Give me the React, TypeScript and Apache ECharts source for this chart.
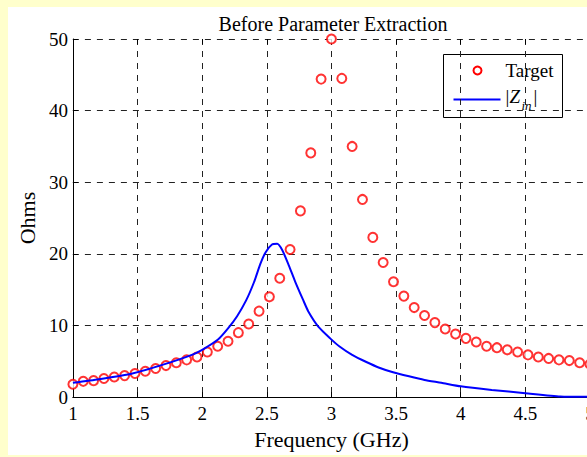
import React, { useEffect, useRef } from "react";
import * as echarts from "echarts";

const targetFreq = [
  1.0, 1.08, 1.16, 1.24, 1.32, 1.4, 1.48, 1.56, 1.64, 1.72, 1.8, 1.88, 1.96,
  2.04, 2.12, 2.2, 2.28, 2.36, 2.44, 2.52, 2.6, 2.68, 2.76, 2.84, 2.92, 3.0,
  3.08, 3.16, 3.24, 3.32, 3.4, 3.48, 3.56, 3.64, 3.72, 3.8, 3.88, 3.96, 4.04,
  4.12, 4.2, 4.28, 4.36, 4.44, 4.52, 4.6, 4.68, 4.76, 4.84, 4.92, 5.0,
];
const targetOhms = [
  1.8, 2.2, 2.3, 2.6, 2.8, 3.0, 3.3, 3.6, 4.0, 4.4, 4.8, 5.2, 5.6, 6.3, 7.1,
  7.8, 9.0, 10.2, 12.0, 14.0, 16.6, 20.6, 26.0, 34.1, 44.4, 50.0, 44.5, 35.0,
  27.6, 22.3, 18.8, 16.1, 14.1, 12.5, 11.4, 10.4, 9.5, 8.8, 8.2, 7.7, 7.1, 6.9,
  6.6, 6.3, 5.9, 5.6, 5.4, 5.2, 5.1, 4.8, 4.6,
];
const zinFreq = [
  1.0, 1.2, 1.46, 1.71, 1.92, 2.0, 2.12, 2.2, 2.27, 2.34, 2.4, 2.45, 2.49,
  2.54, 2.58, 2.62, 2.67, 2.72, 2.78, 2.82, 2.9, 2.99, 3.06, 3.16, 3.27, 3.37,
  3.47, 3.6, 3.72, 3.85, 4.0, 4.24, 4.5, 4.77, 5.0,
];
const zinOhms = [
  2.0, 2.5, 3.3, 4.6, 5.9, 6.6, 8.0, 9.6, 11.3, 13.5, 16.0, 18.6, 20.2, 21.3,
  21.4, 20.5, 18.4, 16.1, 13.6, 12.0, 9.8, 8.2, 7.1, 5.9, 4.9, 4.1, 3.5, 2.9,
  2.4, 2.0, 1.5, 1.0, 0.55, 0.1, 0.05,
];
const xTicks = ["1", "1.5", "2", "2.5", "3", "3.5", "4", "4.5", "5"];
const yTicks = ["0", "10", "20", "30", "40", "50"];

const FONT = "Liberation Serif";

export default function App() {
  const ref = useRef<HTMLDivElement>(null);
  useEffect(() => {
    document.body.style.margin = "0";
    document.body.style.overflow = "hidden";
    document.body.style.background = "#FFFFCC";
    const chart = echarts.init(ref.current!, null, { renderer: "svg" });
    const gridLine = { show: true, lineStyle: { color: "#222", type: [6, 6] as any, width: 1 } };
    chart.setOption({
      animation: false,
      backgroundColor: "#ffffff",
      title: {
        text: "Before Parameter Extraction",
        left: 320,
        top: 2,
        textAlign: "center",
        textStyle: { fontFamily: FONT, fontSize: 20, fontWeight: "normal", color: "#000" },
      },
      grid: { left: 59, top: 32, width: 523, height: 365, containLabel: false },
      xAxis: [
        {
          type: "value",
          min: 1,
          max: 5,
          interval: 0.5,
          name: "Frequency (GHz)",
          nameLocation: "middle",
          nameGap: 27,
          nameTextStyle: { fontFamily: FONT, fontSize: 22, color: "#000" },
          axisLine: { show: true, lineStyle: { color: "#000", width: 1 } },
          axisTick: { show: true, inside: true, length: 5, lineStyle: { color: "#000" } },
          axisLabel: {
            fontFamily: FONT,
            fontSize: 19,
            color: "#000",
            margin: 7,
            formatter: (v: number) => {
              const i = Math.round((v - 1) / 0.5);
              return xTicks[i] ?? "";
            },
          },
          splitLine: gridLine,
        },
        {
          type: "value",
          position: "top",
          min: 1,
          max: 5,
          interval: 0.5,
          axisLine: { show: false },
          axisTick: { show: true, inside: true, length: 5, lineStyle: { color: "#000" } },
          axisLabel: { show: false },
          splitLine: { show: false },
        },
      ],
      yAxis: {
        type: "value",
        min: 0,
        max: 50,
        interval: 10,
        name: "Ohms",
        nameLocation: "middle",
        nameGap: 32,
        nameRotate: 90,
        nameTextStyle: { fontFamily: FONT, fontSize: 22, color: "#000" },
        axisLine: { show: true, lineStyle: { color: "#000", width: 1 } },
        axisTick: { show: true, inside: true, length: 5, lineStyle: { color: "#000" } },
        axisLabel: {
          fontFamily: FONT,
          fontSize: 19,
          color: "#000",
          margin: 5,
          formatter: (v: number) => yTicks[Math.round(v / 10)] ?? "",
        },
        splitLine: gridLine,
      },
      series: [
        {
          name: "Target",
          type: "scatter",
          data: targetFreq.map((f, i) => [f, targetOhms[i]]),
          symbol: "circle",
          symbolSize: 9,
          itemStyle: { color: "#ffffff", borderColor: "#ff0000", borderWidth: 2 },
          z: 3,
        },
        {
          name: "|Zin|",
          type: "line",
          data: zinFreq.map((f, i) => [f, zinOhms[i]]),
          showSymbol: false,
          smooth: 0.2,
          lineStyle: { color: "#0000ff", width: 2 },
          z: 4,
        },
      ],
      graphic: [
        {
          type: "group",
          left: 435,
          top: 47,
          children: [
            {
              type: "rect",
              shape: { x: 0, y: 0, width: 119, height: 63 },
              style: { fill: "#fff", stroke: "#000", lineWidth: 1 },
            },
            {
              type: "circle",
              shape: { cx: 34, cy: 16, r: 4 },
              style: { fill: "#fff", stroke: "#ff0000", lineWidth: 2 },
            },
            {
              type: "text",
              x: 62,
              y: 16,
              style: { text: "Target", fontFamily: FONT, fontSize: 19, fill: "#000", verticalAlign: "middle" },
            },
            {
              type: "line",
              shape: { x1: 10, y1: 45, x2: 57, y2: 45 },
              style: { stroke: "#0000ff", lineWidth: 2 },
            },
            {
              type: "text",
              x: 62,
              y: 42,
              style: { text: "|", fontFamily: FONT, fontSize: 19, fill: "#000", verticalAlign: "middle" },
            },
            {
              type: "text",
              x: 66,
              y: 42,
              style: { text: "Z", fontFamily: FONT, fontSize: 19, fontStyle: "italic", fill: "#000", verticalAlign: "middle" },
            },
            {
              type: "text",
              x: 78,
              y: 51,
              style: { text: "in", fontFamily: FONT, fontSize: 13, fontStyle: "italic", fill: "#000", verticalAlign: "middle" },
            },
            {
              type: "text",
              x: 90,
              y: 42,
              style: { text: "|", fontFamily: FONT, fontSize: 19, fill: "#000", verticalAlign: "middle" },
            },
          ],
        },
      ],
    });
    return () => chart.dispose();
  }, []);
  return (
    <div style={{ position: "relative", width: 587, height: 457, overflow: "hidden", background: "#FFFFCC" }}>
      <div ref={ref} style={{ position: "absolute", left: 8, top: 7, width: 600, height: 448 }} />
    </div>
  );
}
